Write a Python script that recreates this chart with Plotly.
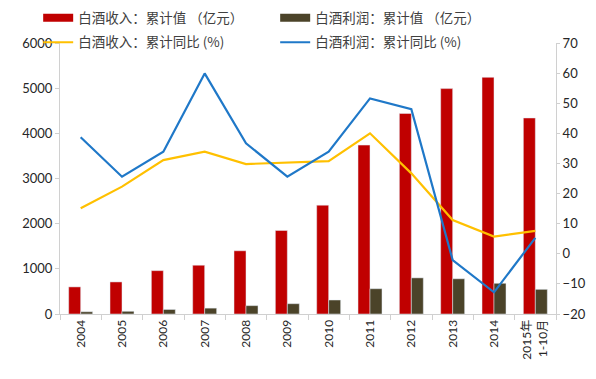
import plotly.graph_objects as go

categories = ["2004", "2005", "2006", "2007", "2008", "2009", "2010", "2011", "2012", "2013", "2014", "2015年<br>1-10月"]
revenue = [600, 710, 960, 1080, 1400, 1850, 2410, 3740, 4440, 4990, 5240, 4340]
profit = [50, 60, 100, 130, 185, 228, 310, 560, 800, 780, 680, 546]
revenue_yoy = [15.1, 22.3, 31.1, 33.9, 29.8, 30.3, 30.8, 40.0, 26.7, 11.2, 5.7, 7.6]
profit_yoy = [38.7, 25.6, 33.9, 59.9, 36.7, 25.6, 33.9, 51.6, 48.0, -2.1, -12.8, 5.3]

names = ["白酒收入：累计值 （亿元）", "白酒利润：累计值 （亿元）", "白酒收入：累计同比 (%)", "白酒利润：累计同比 (%)"]
colors = ["#C00000", "#4B4329", "#FFC000", "#1F78C8"]

fig = go.Figure()
fig.add_trace(go.Bar(x=categories, y=revenue, name=names[0], marker_color=colors[0],
                     showlegend=False, legendgroup="g0"))
fig.add_trace(go.Bar(x=categories, y=profit, name=names[1], marker_color=colors[1],
                     showlegend=False, legendgroup="g1"))
fig.add_trace(go.Scatter(x=categories, y=revenue_yoy, name=names[2], mode="lines",
                         line=dict(color=colors[2], width=2.2), yaxis="y2", legend="legend2"))
fig.add_trace(go.Scatter(x=categories, y=profit_yoy, name=names[3], mode="lines",
                         line=dict(color=colors[3], width=2.2), yaxis="y2", legend="legend2"))
# legend entries for bars drawn as wide rectangles (as in the reference)
for i in range(2):
    fig.add_trace(go.Scatter(x=[None], y=[None], name=names[i], mode="lines",
                             line=dict(color=colors[i], width=8), legendgroup=f"g{i}",
                             legend="legend", hoverinfo="skip"))

axis_font = dict(family="Lato, 'Noto Sans CJK SC', sans-serif", size=13, color="#262626")
leg_font = dict(family="'Noto Sans CJK SC', sans-serif", size=13.5, color="#404040")

# page body has an 8px margin, so the figure is sized/offset to compensate
fig.update_layout(
    width=588, height=371,
    margin=dict(l=52, r=40, t=35, b=65, autoexpand=False),
    paper_bgcolor="white", plot_bgcolor="white",
    barmode="group", bargap=0.42, bargroupgap=0,
    font=axis_font,
    xaxis=dict(showline=True, linecolor="#d0d0d0", linewidth=1, ticks="outside", tickson="boundaries",
               ticklen=5, tickcolor="#d0d0d0", tickangle=-90, automargin=False,
               tickfont=dict(size=12, family="Lato, 'Noto Sans CJK SC', sans-serif"),
               showgrid=False),
    yaxis=dict(range=[0, 6000], dtick=1000, showline=True, linecolor="#d0d0d0", linewidth=1,
               ticks="outside", ticklen=4, tickcolor="#d0d0d0", showgrid=False, zeroline=False,
               automargin=False),
    yaxis2=dict(range=[-20, 70], dtick=10, overlaying="y", side="right", showline=True,
                linecolor="#d0d0d0", linewidth=1, ticks="outside", ticklen=3, tickcolor="#d0d0d0",
                showgrid=False, zeroline=False, automargin=False),
    legend=dict(orientation="h", x=-0.044, y=1.092, xanchor="left", yanchor="middle",
                entrywidth=192, entrywidthmode="pixels", font=leg_font, bgcolor="rgba(0,0,0,0)"),
    legend2=dict(orientation="h", x=-0.044, y=1.002, xanchor="left", yanchor="middle",
                 entrywidth=192, entrywidthmode="pixels", font=leg_font, bgcolor="rgba(0,0,0,0)"),
    showlegend=True,
)

fig.write_html("out.html")
